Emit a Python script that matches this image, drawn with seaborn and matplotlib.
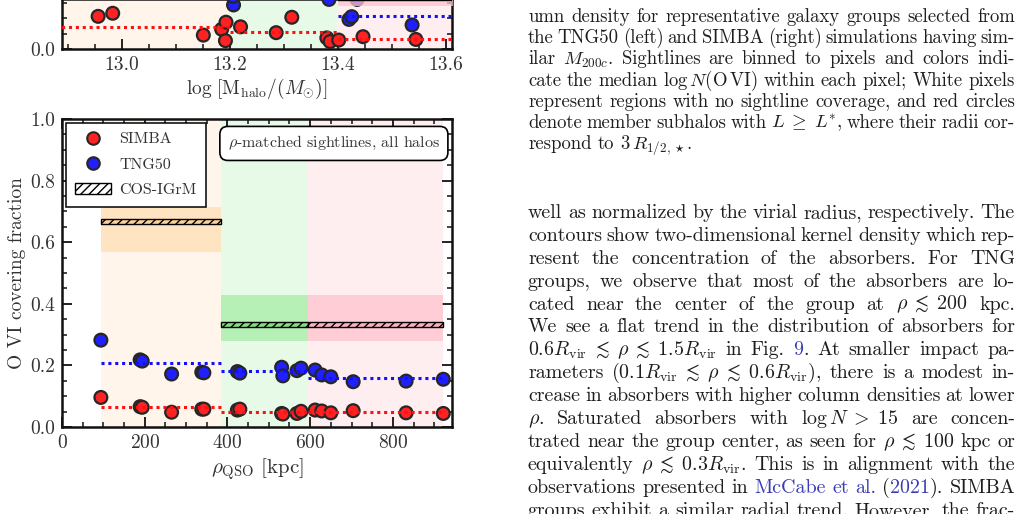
import matplotlib
matplotlib.use("Agg")
import matplotlib.pyplot as plt
import seaborn as sns
import pandas as pd
from matplotlib.lines import Line2D
from matplotlib.patches import Patch
from matplotlib.ticker import MultipleLocator, FormatStrFormatter

W, H, DPI = 1022, 514, 100

# ---- top panel: covering fraction vs halo mass (only its bottom strip is on the page)
mass_simba = [12.956, 12.983, 13.151, 13.185, 13.193, 13.192, 13.220, 13.286,
              13.315, 13.380, 13.386, 13.402, 13.447, 13.545]
fc_mass_simba = [0.107, 0.117, 0.046, 0.065, 0.088, 0.028, 0.073, 0.054,
                 0.104, 0.037, 0.025, 0.030, 0.041, 0.032]
mass_tng = [13.207, 13.206, 13.384, 13.421, 13.426, 13.436, 13.538]
fc_mass_tng = [0.144, 0.172, 0.162, 0.097, 0.106, 0.162, 0.079]
mass_edges = [12.85, 13.2, 13.4, 13.65]
med_mass_simba = [0.074, 0.057, 0.033]
med_mass_tng = [None, None, 0.109]
cos_mass = [None, None, 0.167]
cos_mass_lo = [None, None, 0.141]
cos_mass_hi = [None, None, 0.30]

# ---- bottom panel: covering fraction vs impact parameter
rho = [94, 189, 194, 265, 338, 343, 424, 430, 531, 534, 568, 578, 612, 628,
       650, 704, 832, 922]
fc_tng = [0.282, 0.218, 0.214, 0.172, 0.178, 0.176, 0.180, 0.175, 0.194, 0.166,
          0.183, 0.191, 0.185, 0.169, 0.163, 0.147, 0.149, 0.155]
fc_simba = [0.096, 0.066, 0.064, 0.048, 0.058, 0.058, 0.055, 0.058, 0.044, 0.042,
            0.044, 0.051, 0.055, 0.052, 0.046, 0.053, 0.046, 0.044]
rho_edges = [94, 384, 596, 922]
med_rho_tng = [0.207, 0.181, 0.160]
med_rho_simba = [0.065, 0.050, 0.049]
cos_rho = [0.667, 0.333, 0.333]
cos_rho_lo = [0.568, 0.280, 0.280]
cos_rho_hi = [0.715, 0.429, 0.429]

bg_colors = ["#fff5ea", "#e7f9e7", "#ffeef0"]
band_colors = ["#ffdfb5", "#a8eea8", "#ffc3ce"]
bar_colors = ["#fbd29c", "#7fe07f", "#ffb0bf"]
sim_palette = {"SIMBA": "#ff2222", "TNG50": "#2020ff"}

sns.set_style("ticks")
plt.rcParams["font.family"] = ["cmr10", "DejaVu Serif"]
plt.rcParams["mathtext.fontset"] = "cm"
plt.rcParams["axes.unicode_minus"] = False
plt.rcParams["hatch.linewidth"] = 1.0
plt.rcParams["axes.formatter.use_mathtext"] = True

fig = plt.figure(figsize=(W / DPI, H / DPI), dpi=DPI)
fig.patch.set_facecolor("white")


def px_axes(left, bottom, width, height):
    return fig.add_axes([left / W, 1 - bottom / H, width / W, height / H])


def panel(ax, x_s, y_s, x_t, y_t, edges, med_s, med_t, cos, lo, hi):
    for i in range(3):
        ax.axvspan(edges[i], edges[i + 1], color=bg_colors[i], lw=0, zorder=0)
    df = pd.DataFrame({"x": list(x_s) + list(x_t),
                       "y": list(y_s) + list(y_t),
                       "sim": ["SIMBA"] * len(x_s) + ["TNG50"] * len(x_t)})
    sns.scatterplot(data=df, x="x", y="y", hue="sim", palette=sim_palette, s=85,
                    edgecolor="#262626", linewidth=1.6, legend=False, ax=ax, zorder=3)
    dots = (0, (1, 1.25))
    for i in range(3):
        if med_s[i] is not None:
            ax.hlines(med_s[i], edges[i], edges[i + 1], colors="#ff1010", lw=2.2,
                      linestyles=dots, zorder=4)
        if med_t[i] is not None:
            ax.hlines(med_t[i], edges[i], edges[i + 1], colors="#1010ff", lw=2.2,
                      linestyles=dots, zorder=4)
        if cos[i] is not None:
            ax.fill_between([edges[i], edges[i + 1]], lo[i], hi[i], color=band_colors[i],
                            alpha=0.75, lw=0, zorder=5)
            ax.bar(edges[i], 0.016, width=edges[i + 1] - edges[i], bottom=cos[i] - 0.008,
                   align="edge", color=bar_colors[i], edgecolor="black", lw=1.0,
                   hatch="////", zorder=6)
    ax.yaxis.set_major_locator(MultipleLocator(0.2))
    ax.yaxis.set_minor_locator(MultipleLocator(0.05))
    ax.yaxis.set_major_formatter(FormatStrFormatter("%.1f"))
    ax.tick_params(which="both", direction="in", top=True, right=True,
                   labelsize=14, colors="#111", labelcolor="#333", pad=5)
    ax.tick_params(which="major", length=7, width=1.3)
    ax.tick_params(which="minor", length=3.5, width=1.1)
    for s in ax.spines.values():
        s.set_linewidth(1.8)
        s.set_color("#111")
    ax.set_xlabel("")
    ax.set_ylabel("")


# top panel: only the strip below the page top is drawn
ax1 = px_axes(62, 49.3, 390, 50.3)
panel(ax1, mass_simba, fc_mass_simba, mass_tng, fc_mass_tng, mass_edges,
      med_mass_simba, med_mass_tng, cos_mass, cos_mass_lo, cos_mass_hi)
ax1.set_ylim(0, 50.3 / 308)
ax1.tick_params(which="both", top=False)
ax1.set_xlim(12.889, 13.612)
ax1.xaxis.set_major_locator(MultipleLocator(0.2))
ax1.xaxis.set_minor_locator(MultipleLocator(0.05))
ax1.xaxis.set_major_formatter(FormatStrFormatter("%.1f"))
ax1.set_xlabel(r"$\log\,[\mathrm{M_{halo}}/(M_{\odot})]$", fontsize=14, color="#333",
               labelpad=2)

# bottom panel
ax2 = px_axes(62, 427, 390, 308)
panel(ax2, rho, fc_simba, rho, fc_tng, rho_edges,
      med_rho_simba, med_rho_tng, cos_rho, cos_rho_lo, cos_rho_hi)
ax2.set_ylim(0, 1)
ax2.set_xlim(0, 943)
ax2.xaxis.set_major_locator(MultipleLocator(200))
ax2.xaxis.set_minor_locator(MultipleLocator(50))
ax2.set_xlabel(r"$\rho_{\mathrm{QSO}}$ [kpc]", fontsize=15, color="#333", labelpad=3)
ax2.set_ylabel("O VI covering fraction", fontsize=14, color="#333", labelpad=3)

handles = [Line2D([], [], ls="", marker="o", ms=9, mfc=sim_palette["SIMBA"],
                  mec="#262626", mew=1.5),
           Line2D([], [], ls="", marker="o", ms=9, mfc=sim_palette["TNG50"],
                  mec="#262626", mew=1.5),
           Patch(facecolor="white", edgecolor="black", hatch="////")]
leg = ax2.legend(handles, ["SIMBA", "TNG50", "COS-IGrM"], loc="upper left",
                 fontsize=11.5, frameon=True, fancybox=False, framealpha=1,
                 edgecolor="black", borderaxespad=0.22, handlelength=2.25,
                 handletextpad=0.5, labelspacing=0.7, borderpad=0.6)
leg.get_frame().set_linewidth(1.1)
for t in leg.get_texts():
    t.set_color("#333")
leg.set_zorder(10)

ax2.text(0.969, 0.95, r"$\rho$-matched sightlines, all halos", transform=ax2.transAxes,
         ha="right", va="top", fontsize=11.5, color="#333", zorder=10,
         bbox=dict(boxstyle="round,pad=0.5", fc="white", ec="black", lw=1.2))

# ---- paper text on the right
INK = "#1e1e1e"
LINK = "#3b3bb3"

caption = [
    "umn density for representative galaxy groups selected from",
    "the TNG50 (left) and SIMBA (right) simulations having sim-",
    r"ilar $M_{200c}$. Sightlines are binned to pixels and colors indi-",
    r"cate the median $\log N(\mathrm{O\,VI})$ within each pixel; White pixels",
    "represent regions with no sightline coverage, and red circles",
    r"denote member subhalos with $L\;\geq\;L^{*}$, where their radii cor-",
    r"respond to $3\,R_{1/2,\star}$.",
]
body = [
    "well as normalized by the virial radius, respectively. The",
    "contours show two-dimensional kernel density which rep-",
    "resent the concentration of the absorbers. For TNG",
    "groups, we observe that most of the absorbers are lo-",
    r"cated near the center of the group at $\rho\;\lesssim\;200$ kpc.",
    "We see a flat trend in the distribution of absorbers for",
    r"$0.6R_{\mathrm{vir}}\;\lesssim\;\rho\;\lesssim\;1.5R_{\mathrm{vir}}$ in Fig. @9|. At smaller impact pa-",
    r"rameters $(0.1R_{\mathrm{vir}}\;\lesssim\;\rho\;\lesssim\;0.6R_{\mathrm{vir}})$, there is a modest in-",
    "crease in absorbers with higher column densities at lower",
    r"$\rho$. Saturated absorbers with $\log N\;>\;15$ are concen-",
    r"trated near the group center, as seen for $\rho\;\lesssim\;100$ kpc or",
    r"equivalently $\rho\;\lesssim\;0.3R_{\mathrm{vir}}$. This is in alignment with the",
    "observations presented in @McCabe @et @al. (|@2021|). SIMBA",
    "groups exhibit a similar radial trend. However, the frac-",
]

renderer = fig.canvas.get_renderer()


def tokens_of(line):
    out, cur, in_math = [], "", False
    for ch in line:
        if ch == "$":
            in_math = not in_math
        if ch == " " and not in_math:
            if cur:
                out.append(cur)
            cur = ""
        else:
            cur += ch
    if cur:
        out.append(cur)
    return out


def put_line(line, x0, x1, y, size, justify=True):
    groups = []
    for tok in tokens_of(line):
        arts = []
        for piece in tok.split("|"):
            col = LINK if piece.startswith("@") else INK
            t = fig.text(0, 1 - y / H, piece.lstrip("@"), fontsize=size, color=col,
                         va="baseline", ha="left")
            arts.append((t, t.get_window_extent(renderer).width))
        groups.append(arts)
    widths = [sum(w for _, w in g) for g in groups]
    space = size * DPI / 72 * 0.333
    gap = (x1 - x0 - sum(widths)) / (len(groups) - 1) if justify else space
    x = x0
    for g, w in zip(groups, widths):
        for t, tw in g:
            t.set_x(x / W)
            x += tw
        x += gap


for i, line in enumerate(caption):
    put_line(line, 528, 1015, 22 + 21.2 * i, 13.5, justify=(i < len(caption) - 1))
for i, line in enumerate(body):
    put_line(line, 528, 1015, 218 + 22.9 * i, 14.4)

fig.savefig("out.png", dpi=DPI, facecolor="white")
